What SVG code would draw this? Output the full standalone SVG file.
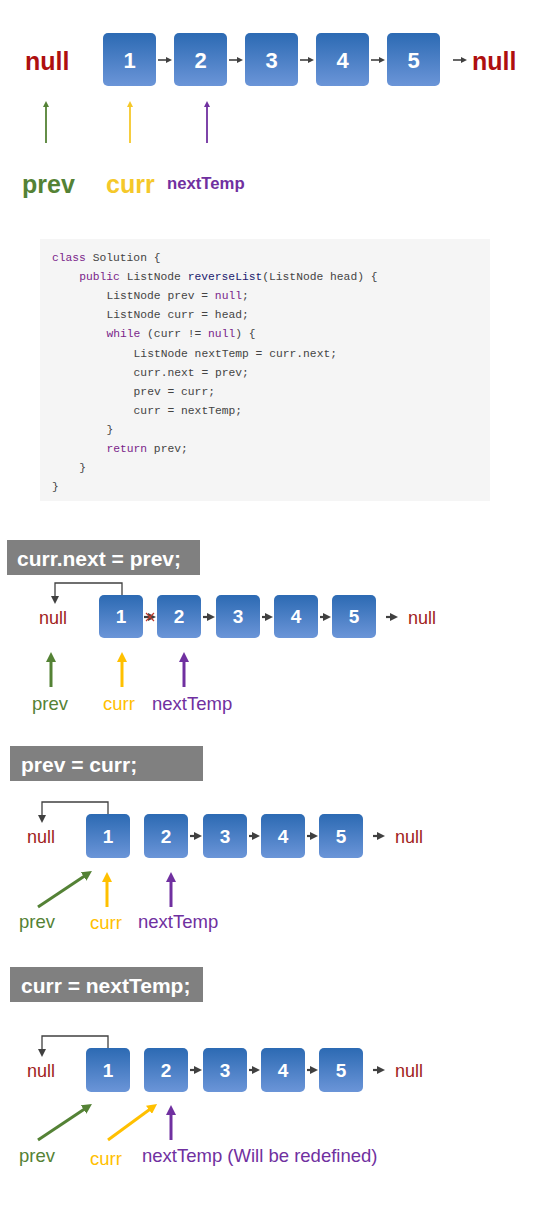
<svg xmlns="http://www.w3.org/2000/svg" width="552" height="1220" viewBox="0 0 552 1220">
<defs>
<linearGradient id="bg" x1="0" y1="0" x2="0" y2="1">
<stop offset="0" stop-color="#2C6AB3"/>
<stop offset="1" stop-color="#6B95D8"/>
</linearGradient>
<marker id="ahs" viewBox="0 0 6 6" refX="1" refY="3" markerWidth="6" markerHeight="6" markerUnits="userSpaceOnUse" orient="auto"><path d="M0,0 L6,3 L0,6 z" fill="#404040"/></marker>
<marker id="ah" viewBox="0 0 8 8" refX="1" refY="4" markerWidth="8" markerHeight="8" markerUnits="userSpaceOnUse" orient="auto"><path d="M0,0 L8,4 L0,8 z" fill="#404040"/></marker>
<marker id="tg" viewBox="0 0 6 6" refX="1" refY="3" markerWidth="6" markerHeight="6" markerUnits="userSpaceOnUse" orient="auto"><path d="M0,0 L6,3 L0,6 z" fill="#548235"/></marker>
<marker id="ty" viewBox="0 0 6 6" refX="1" refY="3" markerWidth="6" markerHeight="6" markerUnits="userSpaceOnUse" orient="auto"><path d="M0,0 L6,3 L0,6 z" fill="#F5C82A"/></marker>
<marker id="tp" viewBox="0 0 6 6" refX="1" refY="3" markerWidth="6" markerHeight="6" markerUnits="userSpaceOnUse" orient="auto"><path d="M0,0 L6,3 L0,6 z" fill="#7030A0"/></marker>
<marker id="mg" viewBox="0 0 10 10" refX="2" refY="5" markerWidth="10" markerHeight="10" markerUnits="userSpaceOnUse" orient="auto"><path d="M0,0 L10,5 L0,10 z" fill="#548235"/></marker>
<marker id="my" viewBox="0 0 10 10" refX="2" refY="5" markerWidth="10" markerHeight="10" markerUnits="userSpaceOnUse" orient="auto"><path d="M0,0 L10,5 L0,10 z" fill="#FFC000"/></marker>
<marker id="mp" viewBox="0 0 10 10" refX="2" refY="5" markerWidth="10" markerHeight="10" markerUnits="userSpaceOnUse" orient="auto"><path d="M0,0 L10,5 L0,10 z" fill="#7030A0"/></marker>
</defs>
<style>
text{font-family:"Liberation Sans",Arial,sans-serif}
.box{fill:url(#bg)}
.d1{fill:#fff;font-weight:bold;font-size:22px;text-anchor:middle}
.d2{fill:#fff;font-weight:bold;font-size:19px;text-anchor:middle}
.nullb{fill:#AE0F0F;font-weight:bold;font-size:25px}
.null{fill:#A01C1C;font-size:18px}
.lk{stroke:#404040;stroke-width:1.6;fill:none}
.lk2{stroke:#404040;stroke-width:2.2;fill:none}
.rt{stroke:#404040;stroke-width:1.3;fill:none}
.hd{fill:#808080}
.ht{fill:#fff;font-weight:bold;font-size:21px}
.g{fill:#548235}.y{fill:#FFC000}.p{fill:#7030A0}
.lb{font-size:18.5px}
.code{font-family:"Liberation Mono","DejaVu Sans Mono",monospace;font-size:11.3px;fill:#444;white-space:pre}
.kw{fill:#7A1F8A}
.fn{fill:#1A1A6E}
</style>

<!-- ===== Section 1 ===== -->
<g id="s1">
<text class="nullb" x="25" y="70">null</text>
<g id="s1n1"><rect class="box" x="103" y="33" width="53" height="53" rx="5"/><text class="d1" x="129.5" y="67.5">1</text></g>
<g id="s1n2"><rect class="box" x="174" y="33" width="53" height="53" rx="5"/><text class="d1" x="200.5" y="67.5">2</text></g>
<g id="s1n3"><rect class="box" x="245" y="33" width="53" height="53" rx="5"/><text class="d1" x="271.5" y="67.5">3</text></g>
<g id="s1n4"><rect class="box" x="316" y="33" width="53" height="53" rx="5"/><text class="d1" x="342.5" y="67.5">4</text></g>
<g id="s1n5"><rect class="box" x="387" y="33" width="53" height="53" rx="5"/><text class="d1" x="413.5" y="67.5">5</text></g>
<text class="nullb" x="472" y="70">null</text>
<text class="g" x="22" y="193" font-weight="bold" font-size="25">prev</text>
<text class="y" x="106" y="193" font-weight="bold" font-size="25" style="fill:#F5C82A">curr</text>
<text class="p" x="167" y="189" font-weight="bold" font-size="16.7">nextTemp</text>
</g>
<g id="s1conn">
<line class="lk" x1="158" y1="60" x2="167" y2="60" marker-end="url(#ahs)"/>
<line class="lk" x1="229" y1="60" x2="238" y2="60" marker-end="url(#ahs)"/>
<line class="lk" x1="300" y1="60" x2="309" y2="60" marker-end="url(#ahs)"/>
<line class="lk" x1="371" y1="60" x2="380" y2="60" marker-end="url(#ahs)"/>
<line class="lk" x1="453" y1="60" x2="462" y2="60" marker-end="url(#ahs)"/>
<line x1="46" y1="143" x2="46" y2="106" stroke="#548235" stroke-width="1.8" marker-end="url(#tg)"/>
<line x1="130" y1="143" x2="130" y2="106" stroke="#F5C82A" stroke-width="1.8" marker-end="url(#ty)"/>
<line x1="207" y1="143" x2="207" y2="106" stroke="#7030A0" stroke-width="1.8" marker-end="url(#tp)"/>
</g>

<!-- ===== Code ===== -->
<g id="code">
<rect x="40" y="239" width="450" height="262" fill="#F5F5F5"/>
<text class="code" x="52" y="261"><tspan class="kw">class</tspan> Solution {</text>
<text class="code" x="79.2" y="280.1"><tspan class="kw">public</tspan> ListNode <tspan class="fn">reverseList</tspan>(ListNode head) {</text>
<text class="code" x="106.4" y="299.2">ListNode prev = <tspan class="kw">null</tspan>;</text>
<text class="code" x="106.4" y="318.3">ListNode curr = head;</text>
<text class="code" x="106.4" y="337.4"><tspan class="kw">while</tspan> (curr != <tspan class="kw">null</tspan>) {</text>
<text class="code" x="133.6" y="356.5">ListNode nextTemp = curr.next;</text>
<text class="code" x="133.6" y="375.6">curr.next = prev;</text>
<text class="code" x="133.6" y="394.7">prev = curr;</text>
<text class="code" x="133.6" y="413.8">curr = nextTemp;</text>
<text class="code" x="106.4" y="432.9">}</text>
<text class="code" x="106.4" y="452"><tspan class="kw">return</tspan> prev;</text>
<text class="code" x="79.2" y="471.1">}</text>
<text class="code" x="52" y="490.2">}</text>
</g>

<!-- ===== Section 2 ===== -->
<g id="s2">
<rect class="hd" x="7" y="540" width="193" height="35"/>
<text class="ht" x="17" y="566">curr.next = prev;</text>
<text class="null" x="39" y="623.5">null</text>
<g id="s2n1"><rect class="box" x="99" y="595" width="44" height="43" rx="5"/><text class="d2" x="121" y="623.3">1</text></g>
<g id="s2n2"><rect class="box" x="157" y="595" width="44" height="43" rx="5"/><text class="d2" x="179" y="623.3">2</text></g>
<g id="s2n3"><rect class="box" x="216" y="595" width="44" height="43" rx="5"/><text class="d2" x="238" y="623.3">3</text></g>
<g id="s2n4"><rect class="box" x="274" y="595" width="44" height="43" rx="5"/><text class="d2" x="296" y="623.3">4</text></g>
<g id="s2n5"><rect class="box" x="332" y="595" width="44" height="43" rx="5"/><text class="d2" x="354" y="623.3">5</text></g>
<text class="null" x="408" y="623.5">null</text>
<text class="lb g" x="32" y="710">prev</text>
<text class="lb y" x="103" y="710">curr</text>
<text class="lb p" x="152" y="710">nextTemp</text>
</g>
<g id="s2conn">
<line class="lk2" x1="144" y1="617" x2="149" y2="617" marker-end="url(#ah)"/>
<path d="M146,613 L154,621 M146,621 L154,613" stroke="#C0392B" stroke-width="1.2" fill="none"/>
<line class="lk2" x1="203" y1="617" x2="208" y2="617" marker-end="url(#ah)"/>
<line class="lk2" x1="262" y1="617" x2="266" y2="617" marker-end="url(#ah)"/>
<line class="lk2" x1="320" y1="617" x2="324" y2="617" marker-end="url(#ah)"/>
<line class="lk2" x1="386" y1="617" x2="391" y2="617" marker-end="url(#ah)"/>
<polyline class="rt" points="122,595 122,583 55,583 55,597" marker-end="url(#ah)"/>
<line x1="51" y1="687" x2="51" y2="660" stroke="#548235" stroke-width="3" marker-end="url(#mg)"/>
<line x1="122" y1="687" x2="122" y2="660" stroke="#FFC000" stroke-width="3" marker-end="url(#my)"/>
<line x1="184" y1="687" x2="184" y2="660" stroke="#7030A0" stroke-width="3" marker-end="url(#mp)"/>
</g>

<!-- ===== Section 3 ===== -->
<g id="s3">
<rect class="hd" x="10" y="746" width="193" height="35"/>
<text class="ht" x="21" y="772">prev = curr;</text>
<text class="null" x="27" y="843">null</text>
<g id="s3n1"><rect class="box" x="86" y="814" width="44" height="44" rx="5"/><text class="d2" x="108" y="842.8">1</text></g>
<g id="s3n2"><rect class="box" x="144" y="814" width="44" height="44" rx="5"/><text class="d2" x="166" y="842.8">2</text></g>
<g id="s3n3"><rect class="box" x="203" y="814" width="44" height="44" rx="5"/><text class="d2" x="225" y="842.8">3</text></g>
<g id="s3n4"><rect class="box" x="261" y="814" width="44" height="44" rx="5"/><text class="d2" x="283" y="842.8">4</text></g>
<g id="s3n5"><rect class="box" x="319" y="814" width="44" height="44" rx="5"/><text class="d2" x="341" y="842.8">5</text></g>
<text class="null" x="395" y="843">null</text>
<text class="lb g" x="19" y="928">prev</text>
<text class="lb y" x="90" y="929">curr</text>
<text class="lb p" x="138" y="928">nextTemp</text>
</g>
<g id="s3conn">
<line class="lk2" x1="190" y1="836" x2="195" y2="836" marker-end="url(#ah)"/>
<line class="lk2" x1="249" y1="836" x2="253" y2="836" marker-end="url(#ah)"/>
<line class="lk2" x1="307" y1="836" x2="311" y2="836" marker-end="url(#ah)"/>
<line class="lk2" x1="373" y1="836" x2="378" y2="836" marker-end="url(#ah)"/>
<polyline class="rt" points="108,814 108,802 42,802 42,816" marker-end="url(#ah)"/>
<line x1="38" y1="907" x2="85.3" y2="875.4" stroke="#548235" stroke-width="3" marker-end="url(#mg)"/>
<line x1="107" y1="907" x2="107" y2="880" stroke="#FFC000" stroke-width="3" marker-end="url(#my)"/>
<line x1="171" y1="907" x2="171" y2="880" stroke="#7030A0" stroke-width="3" marker-end="url(#mp)"/>
</g>

<!-- ===== Section 4 ===== -->
<g id="s4">
<rect class="hd" x="10" y="967" width="193" height="35"/>
<text class="ht" x="21" y="993">curr = nextTemp;</text>
<text class="null" x="27" y="1076.5">null</text>
<g id="s4n1"><rect class="box" x="86" y="1048" width="44" height="44" rx="5"/><text class="d2" x="108" y="1076.8">1</text></g>
<g id="s4n2"><rect class="box" x="144" y="1048" width="44" height="44" rx="5"/><text class="d2" x="166" y="1076.8">2</text></g>
<g id="s4n3"><rect class="box" x="203" y="1048" width="44" height="44" rx="5"/><text class="d2" x="225" y="1076.8">3</text></g>
<g id="s4n4"><rect class="box" x="261" y="1048" width="44" height="44" rx="5"/><text class="d2" x="283" y="1076.8">4</text></g>
<g id="s4n5"><rect class="box" x="319" y="1048" width="44" height="44" rx="5"/><text class="d2" x="341" y="1076.8">5</text></g>
<text class="null" x="395" y="1076.5">null</text>
<text class="lb g" x="19" y="1162">prev</text>
<text class="lb y" x="90" y="1165">curr</text>
<text class="lb p" x="142" y="1162">nextTemp (Will be redefined)</text>
</g>
<g id="s4conn">
<line class="lk2" x1="190" y1="1070" x2="195" y2="1070" marker-end="url(#ah)"/>
<line class="lk2" x1="249" y1="1070" x2="253" y2="1070" marker-end="url(#ah)"/>
<line class="lk2" x1="307" y1="1070" x2="311" y2="1070" marker-end="url(#ah)"/>
<line class="lk2" x1="373" y1="1070" x2="378" y2="1070" marker-end="url(#ah)"/>
<polyline class="rt" points="108,1048 108,1036 42,1036 42,1050" marker-end="url(#ah)"/>
<line x1="38" y1="1140" x2="85.3" y2="1108.4" stroke="#548235" stroke-width="3" marker-end="url(#mg)"/>
<line x1="108" y1="1140" x2="150.6" y2="1108.7" stroke="#FFC000" stroke-width="3" marker-end="url(#my)"/>
<line x1="171" y1="1140" x2="171" y2="1113" stroke="#7030A0" stroke-width="3" marker-end="url(#mp)"/>
</g>
</svg>
